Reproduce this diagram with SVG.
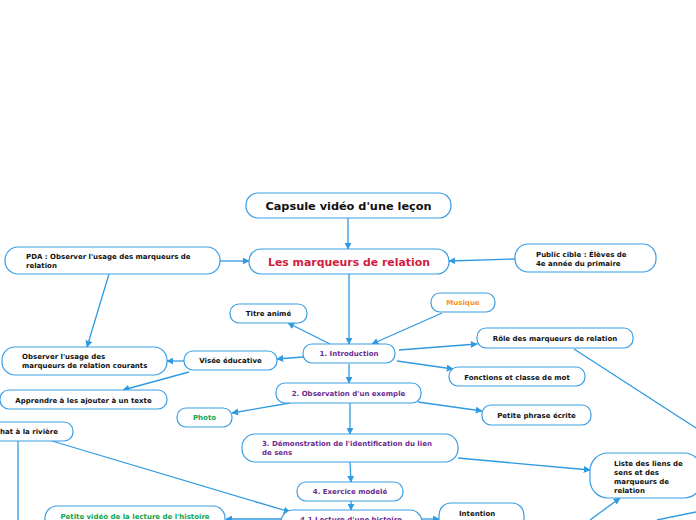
<svg xmlns="http://www.w3.org/2000/svg" width="696" height="520" viewBox="0 0 696 520">
<style>
.n{fill:#fff;stroke:#3a9de3;stroke-width:1.2}
.t{font-family:"DejaVu Sans",Verdana,sans-serif;font-weight:bold;font-size:7px;fill:#111}
.c{text-anchor:middle}
.p{fill:#6a2c91}
.g{fill:#12a54d}
.o{fill:#f7941d}
.l{fill:none;stroke:#2f9ae2;stroke-width:1.3}
</style>
<defs>
<marker id="a" viewBox="0 0 10 10" refX="9" refY="5" markerWidth="7" markerHeight="7" markerUnits="userSpaceOnUse" orient="auto">
<path d="M0,0L10,5L0,10z" fill="#2f9ae2"/>
</marker>
</defs>
<rect width="696" height="520" fill="#fff"/>
<g id="connectors">
<path class="l" d="M348,218L348,249" marker-end="url(#a)"/>
<path class="l" d="M220,261L249,261" marker-end="url(#a)"/>
<path class="l" d="M515,259L449,261" marker-end="url(#a)"/>
<path class="l" d="M109,274L87,347" marker-end="url(#a)"/>
<path class="l" d="M349,274L349,344" marker-end="url(#a)"/>
<path class="l" d="M442,313L372,344" marker-end="url(#a)"/>
<path class="l" d="M330,344L288,323" marker-end="url(#a)"/>
<path class="l" d="M303,357L277,359" marker-end="url(#a)"/>
<path class="l" d="M399,350L477,344" marker-end="url(#a)"/>
<path class="l" d="M397,361L453,369" marker-end="url(#a)"/>
<path class="l" d="M349,364L349,383" marker-end="url(#a)"/>
<path class="l" d="M184,361L167,361" marker-end="url(#a)"/>
<path class="l" d="M189,372L123,390" marker-end="url(#a)"/>
<path class="l" d="M290,403L232,413" marker-end="url(#a)"/>
<path class="l" d="M418,402L482,411" marker-end="url(#a)"/>
<path class="l" d="M350,403L350,434" marker-end="url(#a)"/>
<path class="l" d="M574,349L696,428"/>
<path class="l" d="M458,458L590,470" marker-end="url(#a)"/>
<path class="l" d="M350,462L351,482" marker-end="url(#a)"/>
<path class="l" d="M351,501L351,510" marker-end="url(#a)"/>
<path class="l" d="M52,441L290,512" marker-end="url(#a)"/>
<path class="l" d="M18,441L18,520"/>
<path class="l" d="M281,519L226,519" marker-end="url(#a)"/>
<path class="l" d="M422,519L439,519" marker-end="url(#a)"/>
<path class="l" d="M590,520L620,498" marker-end="url(#a)"/>
<path class="l" d="M657,520L696,512"/>
</g>
<g id="capsule"><rect class="n" x="246" y="193" width="205" height="25" rx="12"/><text class="t c" x="348.5" y="210" style="font-size:11.3px">Capsule vidéo d'une leçon</text></g>
<g id="marqueurs"><rect class="n" x="249" y="249" width="200" height="25" rx="12"/><text class="t c" x="349" y="266" style="font-size:10.9px;fill:#d31c3e">Les marqueurs de relation</text></g>
<g id="pda"><rect class="n" x="5" y="247" width="215" height="27" rx="13"/><text class="t" x="26" y="259">PDA : Observer l'usage des marqueurs de</text><text class="t" x="26" y="268">relation</text></g>
<g id="public"><rect class="n" x="515" y="244" width="141" height="28" rx="13"/><text class="t" x="536" y="257">Public cible : Élèves de</text><text class="t" x="536" y="266">4e année du primaire</text></g>
<g id="titre"><rect class="n" x="230" y="304" width="77" height="19" rx="9"/><text class="t c" x="268.5" y="316">Titre animé</text></g>
<g id="musique"><rect class="n" x="431" y="293" width="64" height="19" rx="9"/><text class="t c o" x="463" y="305">Musique</text></g>
<g id="intro"><rect class="n" x="303" y="344" width="92" height="19" rx="9"/><text class="t c p" x="349" y="356">1. Introduction</text></g>
<g id="role"><rect class="n" x="477" y="328" width="156" height="20" rx="9"/><text class="t c" x="555" y="340.5">Rôle des marqueurs de relation</text></g>
<g id="visee"><rect class="n" x="184" y="351" width="93" height="19" rx="9"/><text class="t c" x="230.5" y="363">Visée éducative</text></g>
<g id="observer"><rect class="n" x="2" y="347" width="165" height="28" rx="13"/><text class="t" x="22" y="359">Observer l'usage des</text><text class="t" x="22" y="368">marqueurs de relation courants</text></g>
<g id="fonctions"><rect class="n" x="449" y="367" width="136" height="19" rx="9"/><text class="t c" x="517" y="379.5">Fonctions et classe de mot</text></g>
<g id="apprendre"><rect class="n" x="0" y="390" width="167" height="19" rx="9"/><text class="t c" x="83.5" y="402.5">Apprendre à les ajouter à un texte</text></g>
<g id="observation"><rect class="n" x="276" y="383" width="145" height="20" rx="9"/><text class="t c p" x="348.5" y="395.5">2. Observation d'un exemple</text></g>
<g id="photo"><rect class="n" x="177" y="408" width="55" height="19" rx="9"/><text class="t c g" x="204.5" y="420">Photo</text></g>
<g id="phrase"><rect class="n" x="482" y="405" width="109" height="20" rx="9"/><text class="t c" x="536.5" y="418">Petite phrase écrite</text></g>
<g id="chat"><rect class="n" x="-20" y="422" width="93" height="19" rx="9"/><text class="t" x="0" y="434">hat à la rivière</text></g>
<g id="demo"><rect class="n" x="242" y="434" width="216" height="28" rx="13"/><text class="t p" x="262" y="446">3. Démonstration de l'identification du lien</text><text class="t p" x="262" y="455">de sens</text></g>
<g id="liste"><rect class="n" x="590" y="453" width="112" height="45" rx="18"/><text class="t" x="614" y="466">Liste des liens de</text><text class="t" x="614" y="475">sens et des</text><text class="t" x="614" y="484">marqueurs de</text><text class="t" x="614" y="493">relation</text></g>
<g id="exercice"><rect class="n" x="297" y="482" width="106" height="19" rx="9"/><text class="t c p" x="350" y="494">4. Exercice modelé</text></g>
<g id="lecture"><rect class="n" x="281" y="510" width="141" height="25" rx="12"/><text class="t c p" x="351" y="522">4.1 Lecture d'une histoire</text></g>
<g id="video"><rect class="n" x="45" y="506" width="180" height="25" rx="12"/><text class="t c g" x="135" y="518.5">Petite vidéo de la lecture de l'histoire</text></g>
<g id="intention"><rect class="n" x="439" y="503" width="85" height="30" rx="12"/><text class="t" x="459" y="515.5">Intention</text></g>
</svg>
